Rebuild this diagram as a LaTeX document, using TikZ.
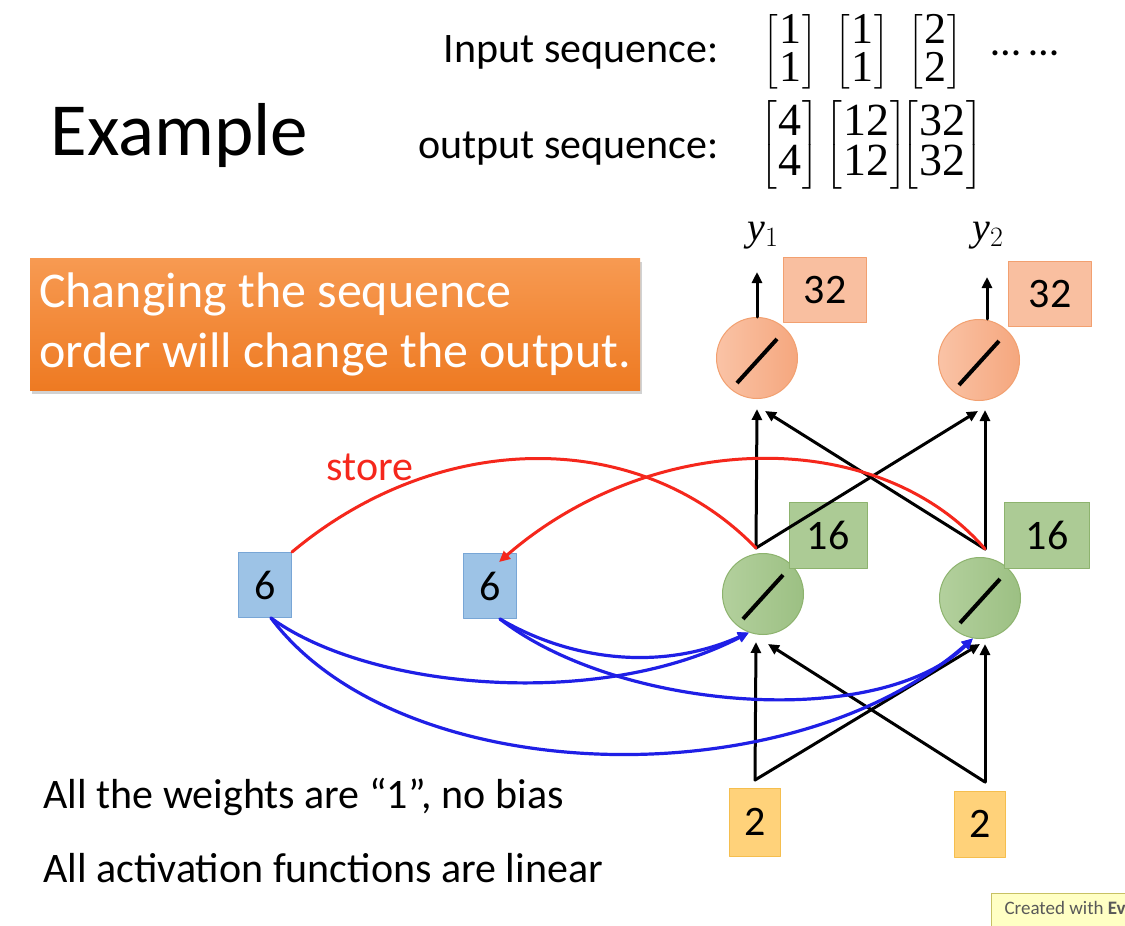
\RequirePackage{fix-cm}
\documentclass[tikz,border=0pt]{standalone}
\usepackage{fontspec}
\setmainfont{Carlito}
\newfontfamily\seqfont{Liberation Serif}
\usepackage{amsmath}
\usetikzlibrary{arrows.meta,shadows}
\definecolor{notetop}{HTML}{F79A52}
\definecolor{notebot}{HTML}{EE7A22}
\definecolor{outlight}{HTML}{FAC3A6}
\definecolor{outdark}{HTML}{F5A77E}
\definecolor{outline}{HTML}{F2A070}
\definecolor{hidlight}{HTML}{B3D09D}
\definecolor{hiddark}{HTML}{9CC083}
\definecolor{hidline}{HTML}{8DB36E}
\definecolor{memfill}{HTML}{9DC3E6}
\definecolor{memline}{HTML}{78A6D6}
\definecolor{infill}{HTML}{FFD27A}
\definecolor{inline}{HTML}{F5BE4E}
\definecolor{storered}{HTML}{F5271C}
\definecolor{feedblue}{HTML}{1F1FE6}
\definecolor{madefill}{HTML}{FFFFC4}
\newcommand\colvec[2]{\setlength\arraycolsep{1pt}$\left[\begin{array}{c}\hbox{\seqfont #1}\\\hbox{\seqfont #2}\end{array}\right]$}
\tikzstyle{every node}=[font=\fontsize{42}{50}\selectfont]
\tikzstyle{every path}=[line cap=round,line join=round]
\tikzstyle{neuron}=[circle,minimum size=81pt,inner sep=0pt,line width=1pt]
\tikzstyle{outc}=[neuron,draw=outline,left color=outlight,right color=outdark]
\tikzstyle{hidc}=[neuron,draw=hidline,left color=hidlight,right color=hiddark]
\tikzstyle{valbox}=[rectangle,inner sep=0pt,line width=1pt]
\tikzstyle{slash}=[line width=4pt,line cap=butt]
\tikzstyle{wire}=[line width=3pt,-{Triangle[length=11pt,width=10pt]}]
\tikzstyle{storeline}=[line width=3pt,storered]
\tikzstyle{feed}=[line width=3.2pt,feedblue,-{Triangle[length=11pt,width=10pt]}]
\tikzstyle{seqin}=[inner sep=0pt,font=\fontsize{44}{30}\selectfont]
\tikzstyle{seqout}=[inner sep=0pt,font=\fontsize{46}{32}\selectfont]

\begin{document}
\begin{tikzpicture}[x=1pt,y=-1pt]
	\useasboundingbox[fill=white] (0,0) rectangle (1125,926);
%Title and sequences
	\node[anchor=base west,font=\fontsize{75}{90}\selectfont] (title) at (47,155) {Example};
	\node[anchor=base east] (inlab) at (722,62) {Input sequence:};
	\node[anchor=base east] (outlab) at (722,158) {output sequence:};
	\node[seqin] (in1) at (790,52) {\colvec{1}{1}};
	\node[seqin] (in2) at (862,52) {\colvec{1}{1}};
	\node[seqin] (in3) at (935,52) {\colvec{2}{2}};
	\node[anchor=base] (dots) at (1025,55) {\dots\ \dots};
	\node[seqout] (out1) at (790,145) {\colvec{4}{4}};
	\node[seqout] (out2) at (866,145) {\colvec{12}{12}};
	\node[seqout] (out3) at (942,145) {\colvec{32}{32}};
	%% orange note
	\node[rectangle,minimum width=610pt,minimum height=132pt,text=white,align=left,
		font=\fontsize{50}{60}\selectfont,top color=notetop,bottom color=notebot,
		drop shadow={opacity=0.35,shadow xshift=2pt,shadow yshift=-4pt}] (note) at (335,324)
		{Changing the sequence\\order will change the output.};
%Neurons
	\node[outc] (o1) at (757,358) {};
	\node[outc] (o2) at (979,360) {};
	\node[hidc] (h1) at (763,594) {};
	\node[hidc] (h2) at (980,598) {};
	\foreach \n in {o1,o2,h1,h2}
		\draw[slash] (\n.center) ++(-20,25) -- ++(40,-44); %% linear activation mark
	%% values
	\node[valbox,draw=outline,fill=outlight!85!outdark,minimum width=83pt,minimum height=65pt] (v1) at (825,290) {32};
	\node[valbox,draw=outline,fill=outlight!85!outdark,minimum width=83pt,minimum height=65pt] (v2) at (1050,294) {32};
	\node[valbox,draw=hidline,fill=hidlight!70!hiddark,minimum width=78pt,minimum height=66pt] (g1) at (828,535) {16};
	\node[valbox,draw=hidline,fill=hidlight!70!hiddark,minimum width=85pt,minimum height=66pt] (g2) at (1047,535) {16};
	\node[valbox,draw=memline,fill=memfill,minimum width=53pt,minimum height=65pt] (a1) at (265,585) {6};
	\node[valbox,draw=memline,fill=memfill,minimum width=53pt,minimum height=65pt] (a2) at (490,586) {6};
	\node[valbox,draw=inline,fill=infill,minimum width=51pt,minimum height=68pt] (x1) at (755,822) {2};
	\node[valbox,draw=inline,fill=infill,minimum width=51pt,minimum height=66pt] (x2) at (980,824) {2};
	\node[font=\fontsize{40}{48}\selectfont] (y1) at (763,236) {{\seqfont\itshape y}$_1$};
	\node[font=\fontsize{40}{48}\selectfont] (y2) at (988,236) {{\seqfont\itshape y}$_2$};
%Connectors
	\coordinate (h1s) at (756,548); %% h1s is where h1 sends its output
	\coordinate (h2s) at (985,549); %% h2s is where h2 sends its output
	\coordinate (x1s) at (755,780); %% x1s top of input x1
	\coordinate (x2s) at (985,782); %% x2s top of input x2
	\draw[wire] (o1.north) -- ++(0,-45);
	\draw[wire] ([xshift=8pt]o2.north) -- ++(0,-42);
	\draw[wire] (h1s) -- ([xshift=0pt,yshift=-10pt]o1.south);
	\draw[wire] (h1s) -- ([xshift=-1pt,yshift=-10pt]o2.south);
	\draw[wire] (h2s) -- ([xshift=6pt,yshift=-9pt]o2.south);
	\draw[wire] (h2s) -- ([xshift=8pt,yshift=-12pt]o1.south);
	\draw[wire] (x1s) -- ([xshift=-7pt,yshift=-7pt]h1.south);
	\draw[wire] (x1s) -- ([xshift=0pt,yshift=-5pt]h2.south);
	\draw[wire] (x2s) -- ([xshift=5pt,yshift=-5pt]h2.south);
	\draw[wire] (x2s) -- ([xshift=5pt,yshift=-9pt]h1.south);
	%% store into memory
	\draw[storeline] (h1s) .. controls (640,428) and (440,428) .. (a1.north east);
	\draw[storeline,-{Triangle[length=11pt,width=10pt]}] (h2s) .. controls (880,427) and (655,427) .. ([xshift=-18pt,yshift=-9pt]a2.north east);
	\node[text=storered] (storelab) at (370,467) {store};
	%% memory fed back
	\draw[feed] ([xshift=6pt]a1.south) .. controls (370,690) and (600,710) .. (h1.250);
	\draw[feed] ([xshift=6pt]a1.south) .. controls (400,790) and (790,800) .. (h2.260);
	\draw[feed] ([xshift=10pt]a2.south) .. controls (570,660) and (660,672) .. (h1.250);
	\draw[feed] ([xshift=10pt]a2.south) .. controls (620,712) and (880,730) .. (h2.260);
%Notes
	\node[anchor=base west] (rule1) at (40,808) {All the weights are “1”, no bias};
	\node[anchor=base west] (rule2) at (40,882) {All activation functions are linear};
	\draw[fill=madefill,draw=yellow!50!gray] (991,893) rectangle (1135,940);
	\node[anchor=base west,font=\fontsize{19}{22}\selectfont,text=black!65] (made) at (1001,914) {Created with \textbf{Ev}};
\end{tikzpicture}
\end{document}
